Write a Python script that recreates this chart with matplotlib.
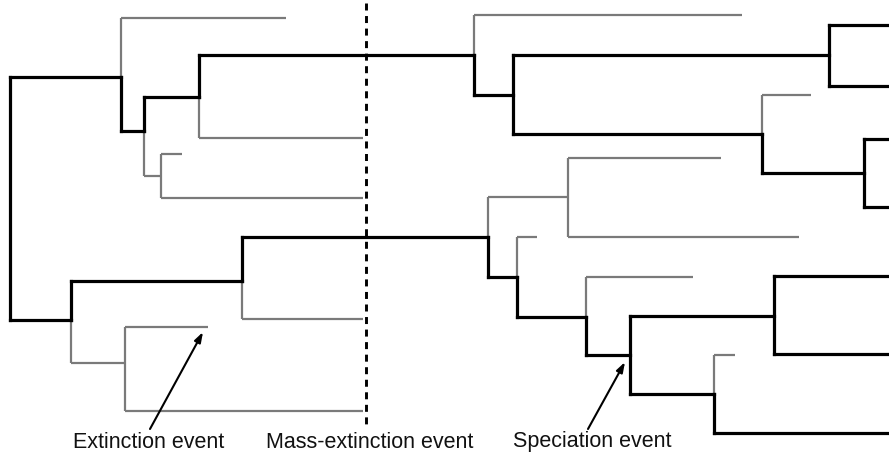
import matplotlib
matplotlib.use('Agg')
import matplotlib.pyplot as plt

# ------------------------------------------------------------
# tree data (time on x, lineage position on y, in picture units)
# ------------------------------------------------------------

# surviving lineages: (y, x_start, x_end)
black_branches = [
    (77, 10, 121), (131, 121, 144), (97, 144, 199), (55, 199, 474),
    (95, 474, 513), (55, 513, 829), (25, 829, 889), (86, 829, 889),
    (134, 513, 762), (173, 762, 864), (139, 864, 889), (207, 864, 889),
    (320, 10, 71), (281, 71, 242), (237, 242, 488), (277, 488, 517),
    (317, 517, 586), (355, 586, 630), (316, 630, 774), (276, 774, 889),
    (354, 774, 889), (394, 630, 714), (433, 714, 889),
]
# extinct lineages: (y, x_start, x_end)
gray_branches = [
    (18, 121, 286), (138, 199, 363), (176, 144, 161), (154, 161, 182),
    (198, 161, 363), (15, 474, 742), (95, 762, 811), (197, 488, 568),
    (158, 568, 721), (237, 568, 799), (237, 517, 537), (277, 586, 693),
    (355, 714, 735), (319, 242, 363), (363, 71, 125), (327, 125, 208),
    (411, 125, 363),
]
# speciation connectors: (x, y_top, y_bottom)
black_nodes = [
    (10, 77, 320), (121, 77, 131), (144, 97, 131), (199, 55, 97),
    (474, 55, 95), (513, 55, 134), (829, 25, 86), (762, 134, 173),
    (864, 139, 207), (71, 281, 320), (242, 237, 281), (488, 237, 277),
    (517, 277, 317), (586, 317, 355), (630, 316, 394), (774, 276, 354),
    (714, 394, 433),
]
gray_nodes = [
    (121, 18, 77), (144, 131, 176), (199, 97, 138), (161, 154, 198),
    (474, 15, 55), (762, 95, 134), (568, 158, 237), (488, 197, 237),
    (517, 237, 277), (586, 277, 317), (714, 355, 394), (242, 281, 319),
    (71, 320, 363), (125, 327, 411),
]

MASS_EXTINCTION_X = 366

labels = ["Extinction event", "Mass-extinction event", "Speciation event"]
label_x = [149, 370, 592]
arrow_tail = [(150, 429), None, (588, 429)]
arrow_head = [(203, 332), None, (625, 362)]

BLACK = "#000000"
GRAY = "#7a7a7a"

# ------------------------------------------------------------
# plot
# ------------------------------------------------------------

fig = plt.figure(figsize=(8.89, 4.57), dpi=100)
ax = fig.add_axes([0, 0, 1, 1])
ax.set_xlim(0, 889)
ax.set_ylim(457, 0)
ax.axis("off")

for y, x0, x1 in gray_branches:
    ax.plot([x0, x1], [y, y], color=GRAY, lw=1.6, solid_capstyle="butt", zorder=1)
for x, y0, y1 in gray_nodes:
    ax.plot([x, x], [y0, y1], color=GRAY, lw=1.6, solid_capstyle="butt", zorder=1)

for y, x0, x1 in black_branches:
    ax.plot([x0, x1], [y, y], color=BLACK, lw=2.3, solid_capstyle="projecting", zorder=2)
for x, y0, y1 in black_nodes:
    ax.plot([x, x], [y0, y1], color=BLACK, lw=2.3, solid_capstyle="projecting", zorder=2)

# mass extinction
ax.plot([MASS_EXTINCTION_X, MASS_EXTINCTION_X], [3, 428], color=BLACK,
        lw=2.1, linestyle=(0, (2.4, 1.9)), zorder=3)

for txt, lx, tail, head in zip(labels, label_x, arrow_tail, arrow_head):
    ax.text(lx, 442, txt, ha="center", va="center", fontsize=15.5,
            family="Liberation Sans", color="#111111")
    if tail is not None:
        ax.annotate("", xy=head, xytext=tail,
                    arrowprops=dict(arrowstyle="-|>,head_length=0.6,head_width=0.2",
                                    color=BLACK, lw=1.5, shrinkA=0, shrinkB=0))

fig.savefig("out.png", dpi=100, facecolor="white")
plt.close(fig)
